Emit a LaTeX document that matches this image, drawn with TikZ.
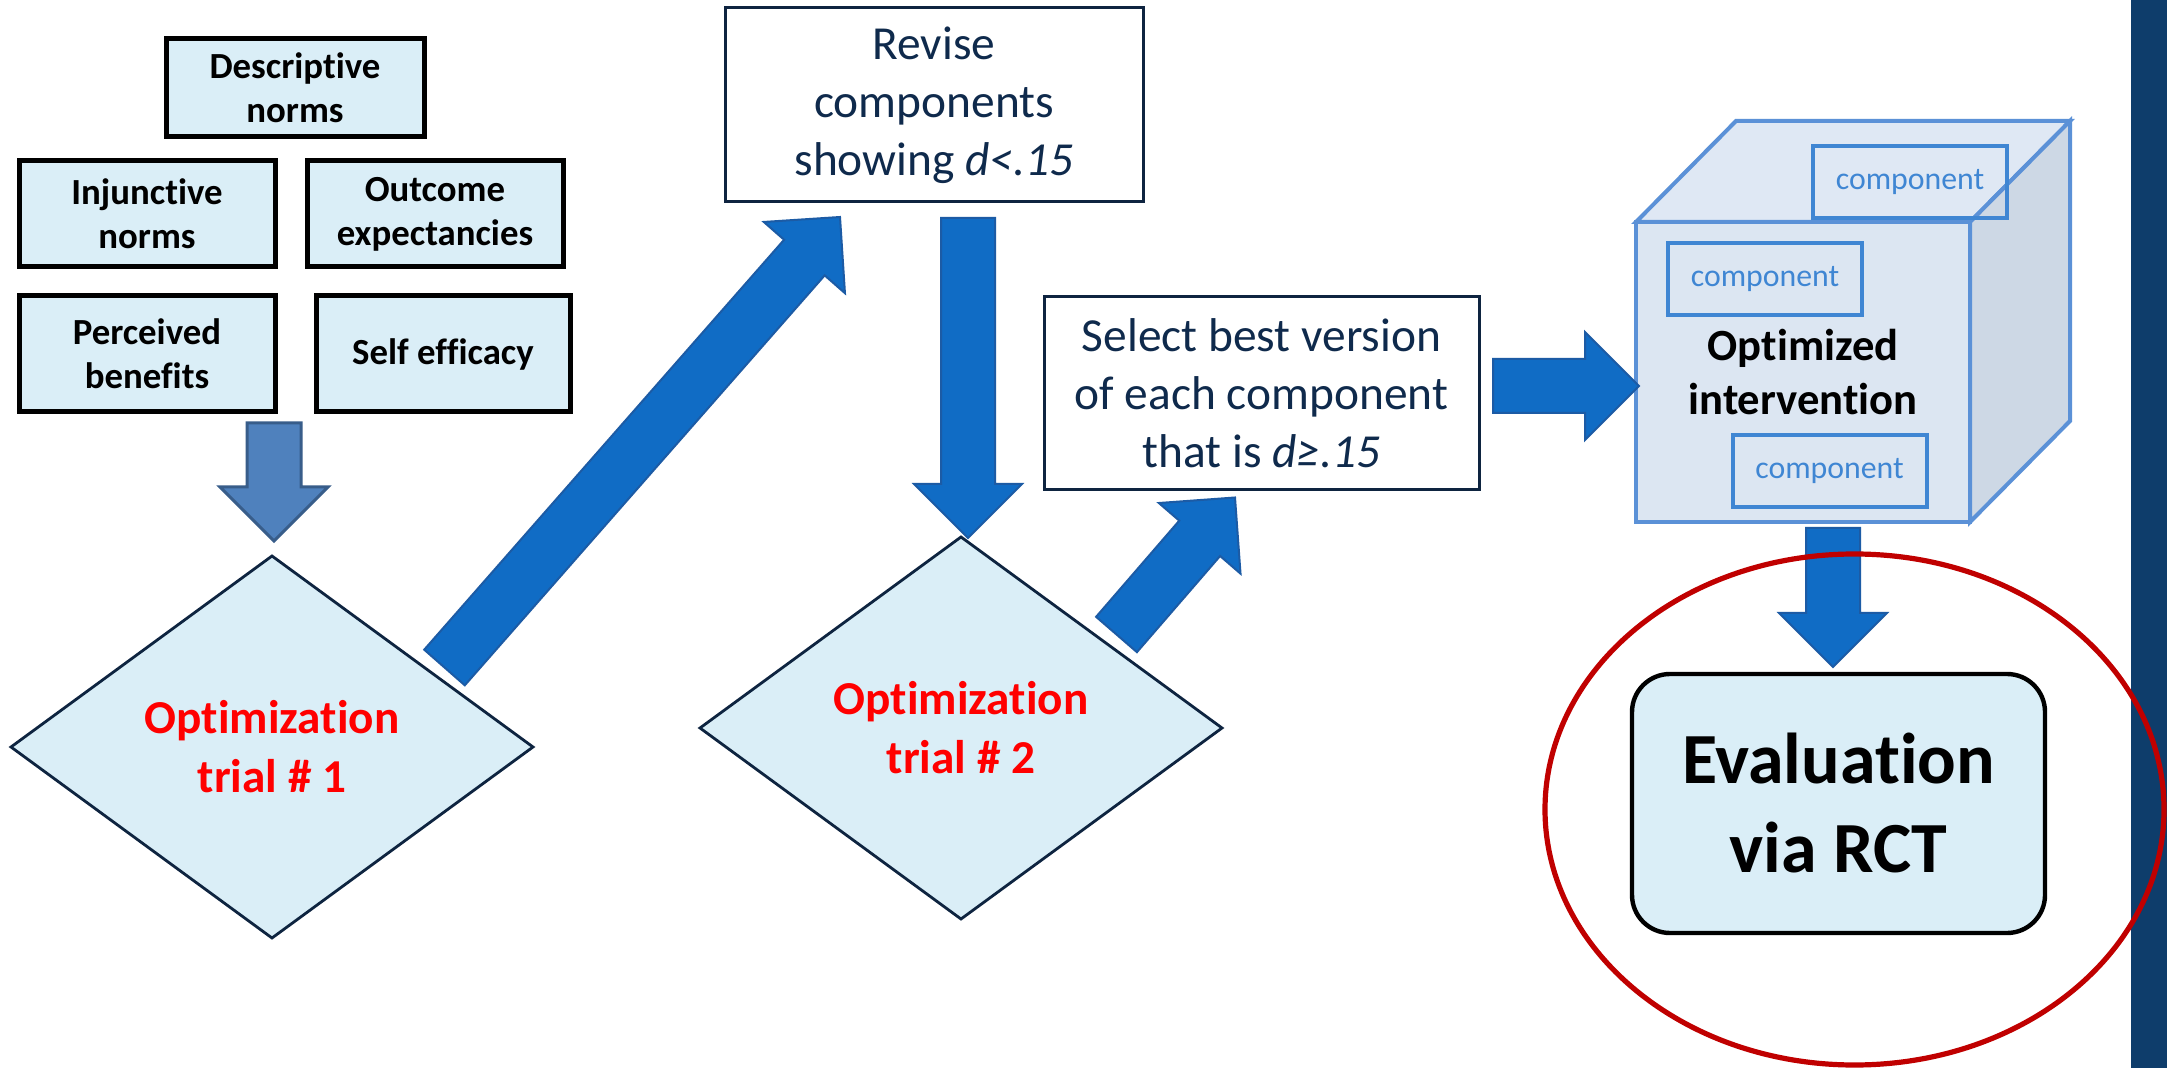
\documentclass[tikz,border=0pt]{standalone}
\usepackage{xcolor}
\usepackage{fontspec}
\setmainfont{Carlito}[Ligatures={NoCommon,NoContextual}]
\usepackage{tikz}
\usetikzlibrary{shapes.geometric,calc}

\definecolor{paleblue}{HTML}{DAEEF7}
\definecolor{inknavy}{HTML}{0F2A4C}
\definecolor{edgenavy}{HTML}{0E2440}
\definecolor{flowblue}{HTML}{106CC5}
\definecolor{flowedge}{HTML}{1C5BA5}
\definecolor{steelfill}{HTML}{4F81BD}
\definecolor{steeledge}{HTML}{385D8A}
\definecolor{cubefront}{HTML}{DCE6F2}
\definecolor{cubetop}{HTML}{DFE8F4}
\definecolor{cubeside}{HTML}{CDD8E5}
\definecolor{cubeedge}{HTML}{5B91D7}
\definecolor{compblue}{HTML}{3F86D3}
\definecolor{ringred}{HTML}{C00000}
\definecolor{sidebar}{HTML}{0E3D6B}

\newcommand{\blockarrow}[3][]{%
  \coordinate (ba-base) at ($(#3)!27pt!(#2)$);
  \draw[flowarrow,#1] ($(#2)!13.5pt!90:(#3)$) -- ($(ba-base)!13.5pt!90:(#3)$)
    -- ($(ba-base)!27pt!90:(#3)$) -- (#3) -- ($(ba-base)!27pt!-90:(#3)$)
    -- ($(ba-base)!13.5pt!-90:(#3)$) -- ($(#2)!13.5pt!-90:(#3)$) -- cycle;
}

\begin{document}
\begin{tikzpicture}[x=0.5pt,y=0.5pt,yscale=-1,xscale=1,
    every node/.style={outer sep=0pt},
    factorbox/.style={draw=black, line width=2.5pt, fill=paleblue, align=center, inner sep=0pt,
      font=\bfseries\fontsize{18.4pt}{22pt}\selectfont},
    stepnote/.style={draw=edgenavy, line width=1.5pt, fill=white, text=inknavy, align=center, inner sep=0pt,
      font=\fontsize{23.7pt}{29pt}\selectfont},
    trial/.style={diamond, draw=edgenavy, line width=1.4pt, fill=paleblue, text=red, align=center, inner sep=0pt,
      minimum width=261pt, minimum height=191pt, font=\bfseries\fontsize{23.6pt}{29.5pt}\selectfont},
    component/.style={draw=compblue, line width=2pt, text=compblue, inner sep=0pt,
      minimum width=97pt, minimum height=36pt, font=\fontsize{15.9pt}{19pt}\selectfont},
    cubeline/.style={draw=cubeedge, line width=2pt, line join=miter},
    flowarrow/.style={fill=flowblue, draw=flowedge, line width=1pt, line join=miter}]

  \fill[white] (0,0) rectangle (2167,1068);
  \fill[sidebar] (2131,0) rectangle (2167,1068);

  \node[factorbox, minimum width=129pt, minimum height=49pt] (descriptive) at (295,88) {Descriptive\\norms};
  \node[factorbox, minimum width=128pt, minimum height=53pt] (injunctive) at (147,214) {Injunctive\\norms};
  \node[factorbox, minimum width=128pt, minimum height=53pt] (outcome) at (435,214) {Outcome\\expectancies};
  \node[factorbox, minimum width=128pt, minimum height=58pt] (benefits) at (147,354) {Perceived\\benefits};
  \node[factorbox, minimum width=127pt, minimum height=58pt] (efficacy) at (443,354) {Self efficacy};

  \node[trial] (trialA) at (272,747) {Optimization\\trial \# 1};
  \node[trial] (trialB) at (961,728) {Optimization\\trial \# 2};

  \node[stepnote, minimum width=209pt, minimum height=97pt] (revise) at (934,105) {Revise\\components\\showing \textit{d<.15}};
  \node[stepnote, minimum width=217.5pt, minimum height=96.5pt] (select) at (1261.5,393) {Select best version\\of each component\\that is \textit{d≥.15}};

  \node[cubeline, fill=cubefront, minimum width=167pt, minimum height=150pt, align=center, inner sep=0pt,
    font=\bfseries\fontsize{22.3pt}{27pt}\selectfont] (cube) at (1803,372) {Optimized\\intervention};
  \draw[cubeline, fill=cubetop] (cube.north west) -- ++(100,-101) -- ++(334,0) -- (cube.north east) -- cycle;
  \draw[cubeline, fill=cubeside] (cube.north east) -- ++(100,-101) -- ++(0,300) -- (cube.south east) -- cycle;
  \node[component] (compA) at (1910,182.5) {component};
  \node[component] (compB) at (1765,279) {component};
  \node[component] (compC) at (1829.5,471) {component};

  \node[draw=black, line width=2.2pt, fill=paleblue, rounded corners=19pt, minimum width=206.5pt, minimum height=129.5pt,
    align=center, inner sep=0pt, font=\bfseries\fontsize{36pt}{44.5pt}\selectfont] (evaluation) at (1838.5,803.5) {Evaluation\\via RCT};

  \coordinate (inA) at ($(trialA.north |- benefits.south)+(2,11)$);
  \coordinate (inA-tip) at ($(trialA.north)+(2,-15)$);
  \coordinate (upA) at ($(trialA.north)!0.5!(trialA.east)+(42,16)$);
  \coordinate (upA-tip) at ($(revise.south west)+(115,15)$);
  \coordinate (downB) at ($(trialB.north |- revise.south)+(7,16)$);
  \coordinate (downB-tip) at ($(trialB.north)+(7,1)$);
  \coordinate (upB) at ($(trialB.north)!0.5!(trialB.east)+(25,2)$);
  \coordinate (upB-tip) at ($(select.south west)+(191,8)$);
  \coordinate (toCube) at ($(select.east)+(14,-7)$);
  \coordinate (toCube-tip) at ($(cube.west)+(3,14)$);
  \coordinate (toEval) at ($(cube.south)+(30,6)$);
  \coordinate (toEval-tip) at ($(evaluation.north)+(-5.5,-7)$);

  \blockarrow[fill=steelfill, draw=steeledge, line width=1.5pt]{inA}{inA-tip}
  \blockarrow{upA}{upA-tip}
  \blockarrow{downB}{downB-tip}
  \blockarrow{upB}{upB-tip}
  \blockarrow{toCube}{toCube-tip}
  \blockarrow{toEval}{toEval-tip}

  \node[ellipse, draw=ringred, line width=2.6pt, minimum width=309.5pt, minimum height=255.5pt, inner sep=0pt] (ring) at (1854.5,809.5) {};
\end{tikzpicture}
\end{document}
